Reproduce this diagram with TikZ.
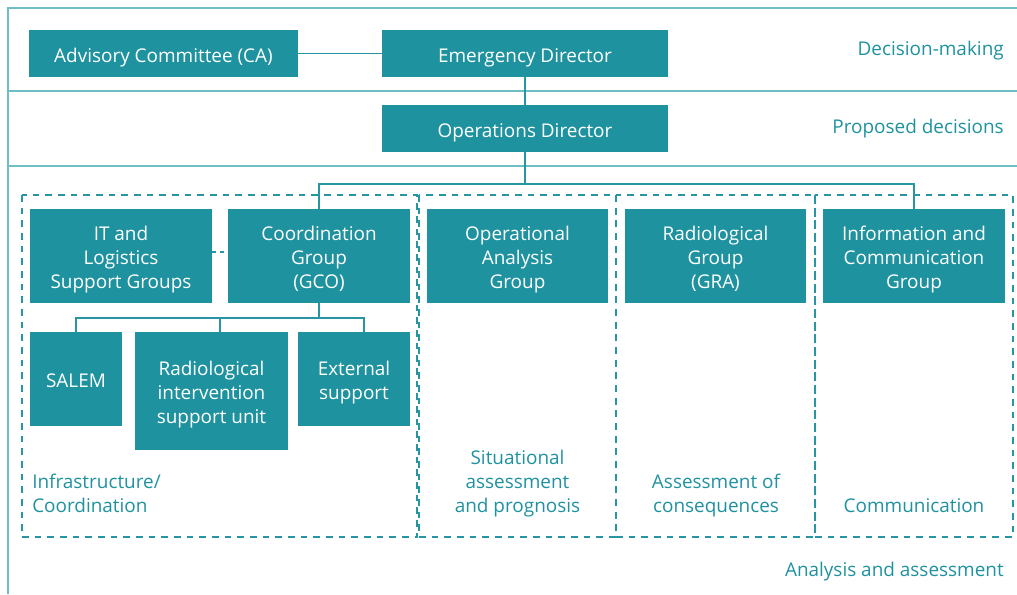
\documentclass[tikz,border=0pt]{standalone}
\usepackage{fontspec}
\setmainfont{Open Sans}
\definecolor{boxc}{RGB}{31,146,159}
\definecolor{framec}{RGB}{110,190,197}
\definecolor{linec}{RGB}{40,150,162}
\begin{document}
\begin{tikzpicture}[x=0.75pt,y=-0.75pt,
 txt/.style={inner sep=0pt,font=\fontsize{14.2}{18}\selectfont,
   text height=16pt,text depth=3.25pt},
 ltwo/.style={text height=34pt},
 lthree/.style={text height=52pt},
 box/.style={txt,fill=boxc,text=white,align=center},
 sz/.style 2 args={minimum width=#1*0.75pt,minimum height=#2*0.75pt},
 frame/.style={draw=framec,line width=1.1pt},
 conn/.style={draw=linec,line width=1pt},
 grp/.style={draw=linec,line width=1pt,dash pattern=on 5pt off 4.5pt},
 lab/.style={txt,text=boxc}]
\useasboundingbox (0,0) rectangle (1017,594);
% frame
\draw[frame] (1017,8) -- (8,8) -- (8,594);
\draw[frame] (8,91) -- (1017,91);
\draw[frame] (8,166) -- (1017,166);
% dashed groups
\draw[grp] (22,195) rectangle (417,537);
\draw[grp] (419,195) rectangle (616,537);
\draw[grp] (616,195) rectangle (815,537);
\draw[grp] (815,195) rectangle (1013,537);
% boxes
\node[box,sz={269}{47}] (ca) at (163.5,53.5) {Advisory Committee (CA)};
\node[box,sz={286}{47}] (ed) at (525,53.5) {Emergency Director};
\node[box,sz={286}{47}] (od) at (525,128.5) {Operations Director};
\node[box,lthree,sz={182}{94}] (it) at (121,256) {IT and\\Logistics\\Support Groups};
\node[box,lthree,sz={182}{94}] (cg) at (319,256) {Coordination\\Group\\(GCO)};
\node[box,lthree,sz={181}{94}] (oag) at (517.5,256) {Operational\\Analysis\\Group};
\node[box,lthree,sz={181}{94}] (gra) at (715.5,256) {Radiological\\Group\\(GRA)};
\node[box,lthree,sz={182}{94}] (icg) at (914,256) {Information and\\Communication\\Group};
\node[box,sz={92}{94}] (salem) at (76,379) {SALEM};
\node[box,lthree,sz={153}{118}] (risu) at (211.5,391) {Radiological\\intervention\\support unit};
\node[box,ltwo,sz={112}{94}] (ext) at (354,379) {External\\support};
% connectors
\coordinate (j1) at (525,184);
\coordinate (j2) at (319,318);
\draw[conn] (ca) -- (ed);
\draw[conn] (ed) -- (od);
\draw[conn] (od.south) -- (j1);
\draw[conn] (cg.north) |- (j1) -| (icg.north);
\draw[conn] (cg.south) -- (j2);
\draw[conn] (salem.north) |- (j2) -| ([xshift=7.5pt]ext.north);
\draw[conn] ([xshift=6.4pt]risu.north) -- ([xshift=6.4pt]risu.north |- j2);
\draw[conn,dash pattern=on 3pt off 3pt] ([yshift=3pt]it.east) -- ([yshift=3pt]cg.west);
% labels
\node[lab,anchor=east] (ldm) at (1004,47) {Decision-making};
\node[lab,anchor=east] (lpd) at (1004,125) {Proposed decisions};
\node[lab,anchor=east] (laa) at (1004,567.5) {Analysis and assessment};
\node[lab,ltwo,anchor=west,align=left] (linf) at (32,492) {Infrastructure/\\Coordination};
\node[lab,lthree,align=center] (lsit) at (517.5,480) {Situational\\assessment\\and prognosis};
\node[lab,ltwo,align=center] (lcons) at (716,492) {Assessment of\\consequences};
\node[lab] (lcom) at (914,504) {Communication};
\end{tikzpicture}
\end{document}
